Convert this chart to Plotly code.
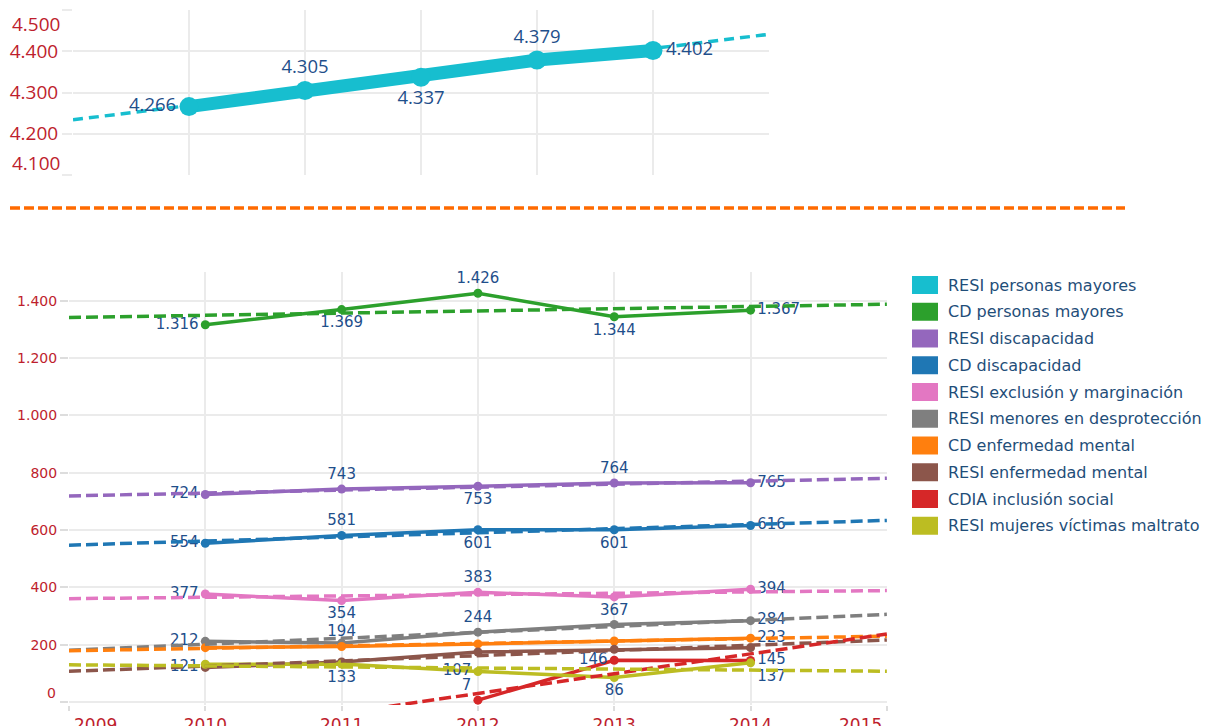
import numpy as np
import plotly.graph_objects as go

# ---------------- data ----------------
years = [2010, 2011, 2012, 2013, 2014]
trend_years = [2009, 2015]

series_names = [
    "RESI personas mayores",
    "CD personas mayores",
    "RESI discapacidad",
    "CD discapacidad",
    "RESI exclusión y marginación",
    "RESI menores en desprotección",
    "CD enfermedad mental",
    "RESI enfermedad mental",
    "CDIA inclusión social",
    "RESI mujeres víctimas maltrato",
]
resi_mayores = [4266, 4305, 4337, 4379, 4402]
cd_mayores = [1316, 1369, 1426, 1344, 1367]
resi_discapacidad = [724, 743, 753, 764, 765]
cd_discapacidad = [554, 581, 601, 601, 616]
resi_exclusion = [377, 354, 383, 367, 394]
resi_menores = [212, 206, 244, 271, 284]
cd_enfermedad = [190, 194, 203, 213, 223]
resi_enfermedad = [121, 140, 175, 184, 190]
cdia_inclusion = [None, None, 7, 146, 145]
resi_mujeres = [132, 133, 107, 86, 137]

top_yticks = [4100, 4200, 4300, 4400, 4500]
bottom_yticks = [0, 200, 400, 600, 800, 1000, 1200, 1400]
bottom_xticks = [2009, 2010, 2011, 2012, 2013, 2014, 2015]

# ---------------- styles ----------------
colors = ["#17becf", "#2ca02c", "#9467bd", "#1f77b4", "#e377c2",
          "#7f7f7f", "#ff7f0e", "#8c564b", "#d62728", "#bcbd22"]
LBL = "#1f4f8b"
TICK = "#be1e2d"
GRID = "#ebebeb"
W, H = 1215, 726

ML, TC, BC, MR, TL, BR, NO = ("middle left", "top center", "bottom center",
                              "middle right", "top left", "bottom right", None)
bottom_series = [
    (cd_mayores, [ML, BC, TC, BC, MR]),
    (resi_discapacidad, [ML, TC, BC, TC, MR]),
    (cd_discapacidad, [ML, TC, BC, BC, MR]),
    (resi_exclusion, [ML, BC, TC, BC, MR]),
    (resi_menores, [ML, NO, TC, NO, MR]),
    (cd_enfermedad, [NO, TC, NO, NO, MR]),
    (resi_enfermedad, [ML, NO, NO, NO, NO]),
    (cdia_inclusion, [NO, NO, TL, ML, MR]),
    (resi_mujeres, [NO, BC, ML, BC, BR]),
]


def fmt(v):
    return f"{v:,}".replace(",", ".")


def trend(xs, ys):
    pts = [(x, y) for x, y in zip(xs, ys) if y is not None]
    px = np.array([p[0] for p in pts], float)
    py = np.array([p[1] for p in pts], float)
    k, b = np.polyfit(px, py, 1)
    return [k * t + b for t in trend_years]


fig = go.Figure()

# ---- top panel: RESI personas mayores ----
top_pos = [ML, TC, BC, TC, MR]
fig.add_trace(go.Scatter(
    x=trend_years, y=trend(years, resi_mayores), mode="lines",
    line=dict(color=colors[0], width=3.5, dash="10px,6px"),
    xaxis="x", yaxis="y", showlegend=False, hoverinfo="skip"))
fig.add_trace(go.Scatter(
    x=years, y=resi_mayores, mode="lines+markers+text",
    line=dict(color=colors[0], width=13),
    marker=dict(color=colors[0], size=19),
    text=[fmt(v) for v in resi_mayores], textposition=top_pos,
    textfont=dict(family="Open Sans", size=18.5, color=LBL),
    xaxis="x", yaxis="y", showlegend=False, cliponaxis=False))

# ---- bottom panel ----
for i, (vals, pos) in enumerate(bottom_series):
    c = colors[i + 1]
    fig.add_trace(go.Scatter(
        x=years, y=vals, mode="lines+markers+text",
        line=dict(color=c, width=3.5), marker=dict(color=c, size=9),
        text=[fmt(v) if (p is not None and v is not None) else "" for v, p in zip(vals, pos)],
        textposition=[p if p is not None else "top center" for p in pos],
        textfont=dict(family="DejaVu Sans", size=15, color=LBL),
        xaxis="x2", yaxis="y2", showlegend=False, cliponaxis=False,
        connectgaps=False))
for i, (vals, pos) in enumerate(bottom_series):
    c = colors[i + 1]
    fig.add_trace(go.Scatter(
        x=trend_years, y=trend(years, vals), mode="lines",
        line=dict(color=c, width=3.5, dash="12px,5px"),
        xaxis="x2", yaxis="y2", showlegend=False, hoverinfo="skip"))

# ---- legend (manual swatches) ----
shapes = []
annotations = []
for i, (name, c) in enumerate(zip(series_names, colors)):
    cy = 285 + 26.75 * i
    shapes.append(dict(type="rect", xref="paper", yref="paper",
                       x0=912 / W, x1=938 / W, y0=1 - (cy + 9) / H, y1=1 - (cy - 9) / H,
                       fillcolor=c, line=dict(width=0)))
    annotations.append(dict(xref="paper", yref="paper", x=946 / W, y=1 - cy / H,
                            xanchor="left", yanchor="middle", showarrow=False,
                            text=name, font=dict(family="DejaVu Sans", size=16, color="#1f4e79")))

# orange dashed separator
shapes.append(dict(type="line", xref="paper", yref="paper",
                   x0=10 / W, x1=1125 / W, y0=1 - 208 / H, y1=1 - 208 / H,
                   line=dict(color="#ff6a00", width=3.5, dash="10px,4px")))

top_font = dict(family="Open Sans", size=19, color=TICK)
bx_font = dict(family="DejaVu Sans", size=17, color=TICK)
by_font = dict(family="DejaVu Sans", size=14, color=TICK)

# edge tick labels, nudged inward as in the original
top_edge = (top_yticks[0], top_yticks[-1])
bx_edge = (bottom_xticks[0], bottom_xticks[-1])
by_edge = bottom_yticks[0]
for v, shift in ((top_edge[1], -14), (top_edge[0], 12)):
    annotations.append(dict(xref="paper", yref="y", x=62 / W, y=v, yshift=shift,
                            xanchor="right", yanchor="middle", showarrow=False,
                            text=fmt(v), font=top_font))
for v, shift in ((bx_edge[0], 26), (bx_edge[1], -26)):
    annotations.append(dict(xref="x2", yref="paper", x=v, y=1 - 713 / H, xshift=shift,
                            xanchor="center", yanchor="top", showarrow=False,
                            text=str(v), font=bx_font))
annotations.append(dict(xref="paper", yref="y2", x=58 / W, y=by_edge, yshift=9,
                        xanchor="right", yanchor="middle", showarrow=False,
                        text=fmt(by_edge), font=by_font))

fig.update_layout(
    width=W, height=H,
    margin=dict(l=0, r=0, t=0, b=0, pad=0, autoexpand=False),
    paper_bgcolor="white", plot_bgcolor="white",
    separators=",.",
    showlegend=False,
    shapes=shapes, annotations=annotations,
    xaxis=dict(domain=[73 / W, 769 / W], range=[2009, 2015],
               tickvals=[2009, 2010, 2011, 2012, 2013, 2014], showticklabels=False,
               showgrid=True, gridcolor=GRID, gridwidth=1.5, zeroline=False, showline=False,
               anchor="y", automargin=False),
    yaxis=dict(domain=[1 - 175 / H, 1 - 10 / H], range=[4100, 4500.5],
               tickvals=top_yticks,
               ticktext=["" if v in top_edge else fmt(v) for v in top_yticks],
               ticklabeloverflow="allow", tickfont=top_font,
               ticks="outside", ticklen=10, tickcolor=GRID, tickwidth=1.5,
               showgrid=True, gridcolor=GRID, gridwidth=1.5, zeroline=False, showline=False,
               anchor="x", automargin=False),
    xaxis2=dict(domain=[69 / W, 887 / W], range=[2009, 2015.001],
                tickvals=bottom_xticks,
                ticktext=["" if v in bx_edge else str(v) for v in bottom_xticks],
                ticklabeloverflow="allow", tickfont=bx_font,
                ticks="outside", ticklen=5, tickcolor="#dddddd", tickwidth=1.5,
                showgrid=True, gridcolor=GRID, gridwidth=1.5, zeroline=False, showline=False,
                anchor="y2", automargin=False),
    yaxis2=dict(domain=[1 - 705 / H, 1 - 272 / H], range=[-10, 1500],
                tickvals=bottom_yticks,
                ticktext=["" if v == by_edge else fmt(v) for v in bottom_yticks],
                tickfont=by_font,
                ticks="outside", ticklen=8, tickcolor="#dddddd", tickwidth=1.5,
                showgrid=True, gridcolor=GRID, gridwidth=1.5, zeroline=False, showline=False,
                anchor="x2", automargin=False),
)

fig.write_html("out.html", config={"displayModeBar": False},
               post_script="document.body.style.margin='0';document.body.style.padding='0';")
